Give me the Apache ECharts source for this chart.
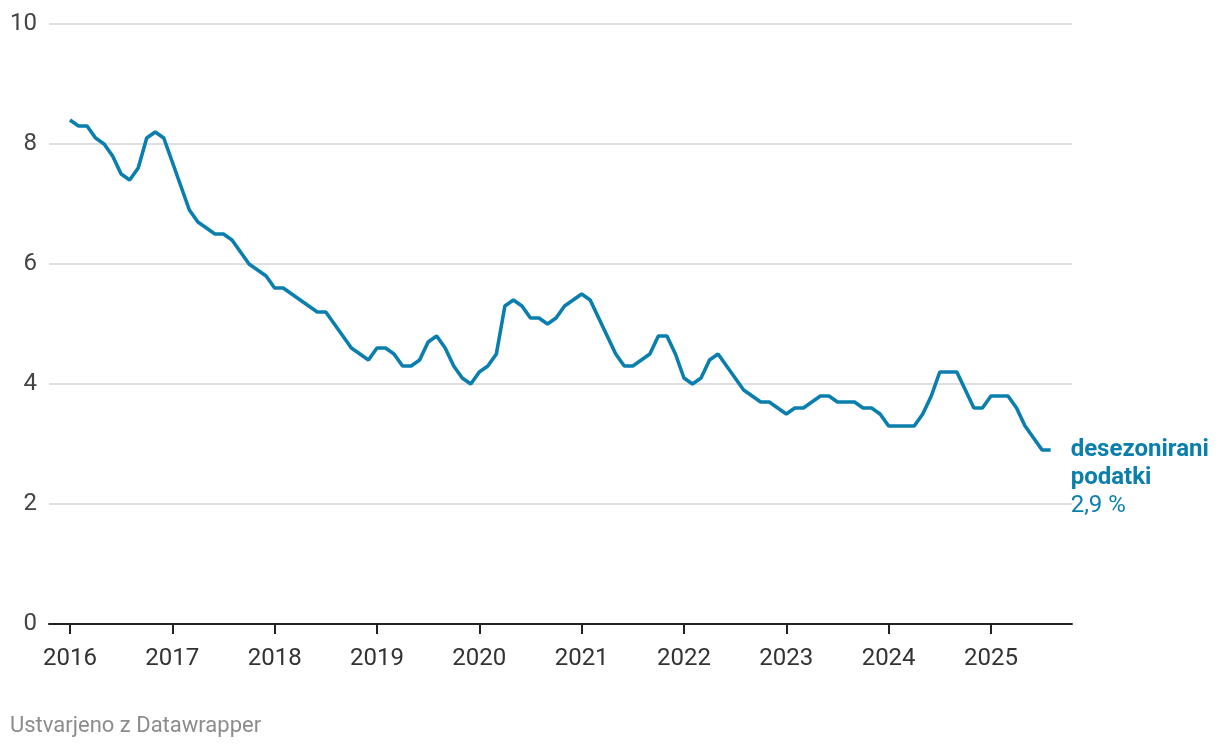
<!DOCTYPE html>
<html>
<head>
<meta charset="utf-8">
<script src="https://cdn.jsdelivr.net/npm/echarts@6/dist/echarts.min.js"></script>
<style>
html,body{margin:0;padding:0;background:#fff;}
#chart{width:1220px;height:750px;}
</style>
</head>
<body>
<div id="chart"></div>
<script>
// Monthly values, January 2016 – August 2025 (seasonally adjusted, %)
const startYear = 2016;
const values2016 = [8.4, 8.3, 8.3, 8.1, 8.0, 7.8, 7.5, 7.4, 7.6, 8.1, 8.2, 8.1];
const values2017 = [7.7, 7.3, 6.9, 6.7, 6.6, 6.5, 6.5, 6.4, 6.2, 6.0, 5.9, 5.8];
const values2018 = [5.6, 5.6, 5.5, 5.4, 5.3, 5.2, 5.2, 5.0, 4.8, 4.6, 4.5, 4.4];
const values2019 = [4.6, 4.6, 4.5, 4.3, 4.3, 4.4, 4.7, 4.8, 4.6, 4.3, 4.1, 4.0];
const values2020 = [4.2, 4.3, 4.5, 5.3, 5.4, 5.3, 5.1, 5.1, 5.0, 5.1, 5.3, 5.4];
const values2021 = [5.5, 5.4, 5.1, 4.8, 4.5, 4.3, 4.3, 4.4, 4.5, 4.8, 4.8, 4.5];
const values2022 = [4.1, 4.0, 4.1, 4.4, 4.5, 4.3, 4.1, 3.9, 3.8, 3.7, 3.7, 3.6];
const values2023 = [3.5, 3.6, 3.6, 3.7, 3.8, 3.8, 3.7, 3.7, 3.7, 3.6, 3.6, 3.5];
const values2024 = [3.3, 3.3, 3.3, 3.3, 3.5, 3.8, 4.2, 4.2, 4.2, 3.9, 3.6, 3.6];
const values2025 = [3.8, 3.8, 3.8, 3.6, 3.3, 3.1, 2.9, 2.9];

const xTickYears = [2016, 2017, 2018, 2019, 2020, 2021, 2022, 2023, 2024, 2025];
const yTicks = [0, 2, 4, 6, 8, 10];
const seriesName = ['desezonirani', 'podatki'];
const footerText = 'Ustvarjeno z Datawrapper';

const allValues = [].concat(values2016, values2017, values2018, values2019, values2020,
  values2021, values2022, values2023, values2024, values2025);
const seriesData = allValues.map((v, i) => [startYear + i / 12, v]);

const blue = '#0a7fae';
const font = 'Roboto';

const chart = echarts.init(document.getElementById('chart'), null, {renderer: 'canvas'});
chart.setOption({
  animation: false,
  backgroundColor: '#ffffff',
  textStyle: {fontFamily: font},
  grid: {left: 49, right: 148, top: 24, bottom: 126, containLabel: false},
  xAxis: {
    type: 'value',
    min: 2015.795,
    max: 2025.792,
    axisLine: {show: true, lineStyle: {color: '#222', width: 2}},
    axisTick: {show: true, length: 10, lineStyle: {color: '#222', width: 2}, customValues: xTickYears},
    axisLabel: {
      show: true, customValues: xTickYears, margin: 23,
      fontSize: 24, color: '#333', fontFamily: font,
      formatter: v => String(Math.round(v))
    },
    splitLine: {show: false}
  },
  yAxis: {
    type: 'value',
    min: yTicks[0],
    max: yTicks[yTicks.length - 1],
    interval: 2,
    axisLine: {show: false},
    axisTick: {show: false},
    axisLabel: {margin: 12, fontSize: 24, color: '#444', fontFamily: font},
    splitLine: {show: true, lineStyle: {color: '#d4d4d4', width: 1.5}}
  },
  series: [{
    type: 'line',
    data: seriesData,
    showSymbol: false,
    symbol: 'none',
    lineStyle: {color: blue, width: 3.6},
    itemStyle: {color: blue},
    endLabel: {
      show: true,
      distance: 20,
      offset: [0, 28],
      formatter: p => '{b|' + seriesName[0] + '}\n{b|' + seriesName[1] + '}\n{n|' +
        p.value[1].toFixed(1).replace('.', ',') + ' %}',
      rich: {
        b: {fontSize: 24, fontWeight: 'bold', color: blue, fontFamily: font, lineHeight: 28},
        n: {fontSize: 24, color: blue, fontFamily: font, lineHeight: 28}
      }
    }
  }],
  graphic: [{
    type: 'text',
    left: 10,
    top: 715,
    style: {text: footerText, fontSize: 22, fill: '#8c8c8c', fontFamily: font}
  }]
});
</script>
</body>
</html>
